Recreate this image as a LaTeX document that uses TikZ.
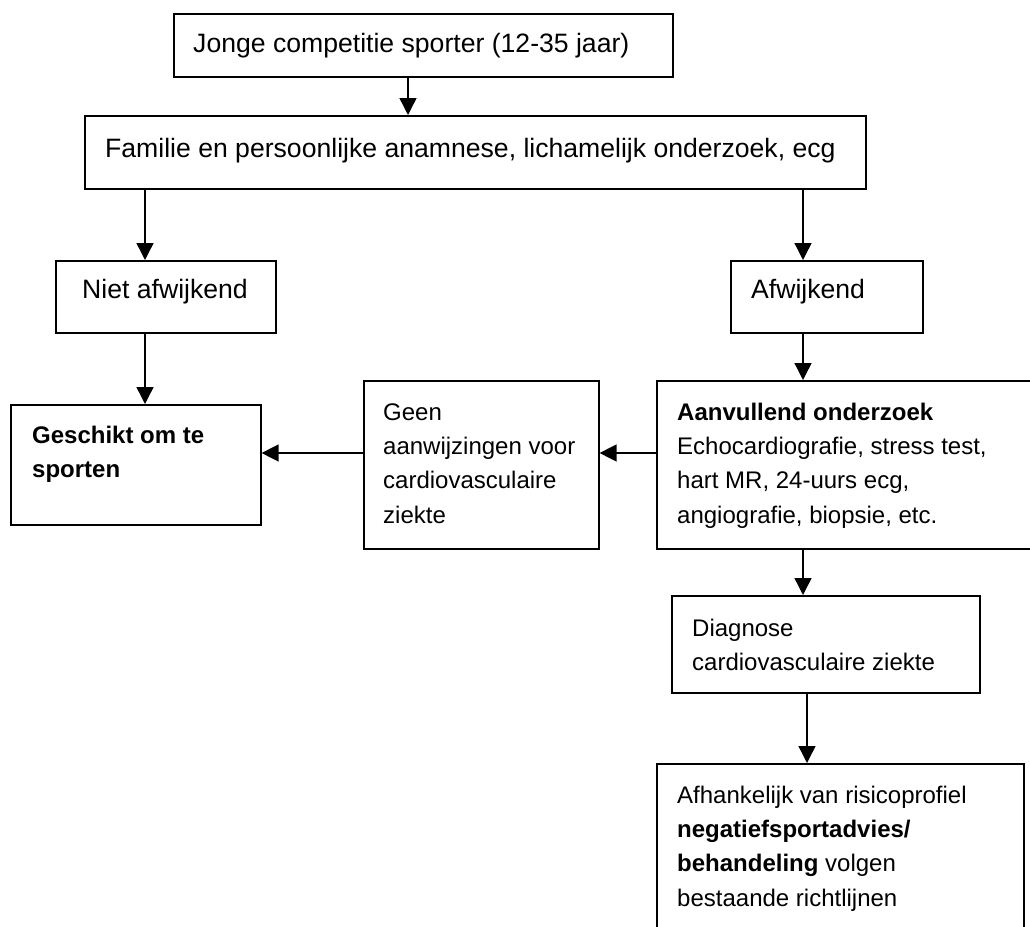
\documentclass[tikz,border=0pt]{standalone}
\usepackage{fontspec}
\setmainfont{Liberation Sans}
\usetikzlibrary{arrows.meta}
\tikzset{
  box/.style={draw=black, line width=1.6pt, inner sep=0pt, anchor=north west},
  arr/.style={draw=black, line width=1.4pt, -{Triangle[length=17pt,width=17pt]}},
  big/.style={anchor=base west, inner sep=0pt, font=\fontsize{26.6}{32}\selectfont},
  small/.style={anchor=base west, inner sep=0pt, font=\fontsize{24}{34.4}\selectfont},
}
\newcommand{\mylines}[1]{\begin{tabular}[t]{@{}l@{}}#1\end{tabular}}
\begin{document}
\begin{tikzpicture}[x=1pt,y=-1pt]
\useasboundingbox (0,0) rectangle (1030,926);
% boxes
\node[box, minimum width=499pt, minimum height=63pt] (b1) at (173,13) {};
\node[box, minimum width=781pt, minimum height=73pt] (b2) at (84,115) {};
\node[box, minimum width=220pt, minimum height=72pt] (b3) at (55,260) {};
\node[box, minimum width=192pt, minimum height=72pt] (b4) at (730,260) {};
\node[box, minimum width=250pt, minimum height=120pt] (b5) at (10,404) {};
\node[box, minimum width=235pt, minimum height=168pt] (b6) at (363,380) {};
\node[box, minimum width=384pt, minimum height=168pt] (b7) at (656,380) {};
\node[box, minimum width=308pt, minimum height=97pt] (b8) at (671,595) {};
\node[box, minimum width=367pt, minimum height=190pt] (b9) at (656,763) {};
% texts
\node[big] (t1) at (193,52) {Jonge competitie sporter (12-35 jaar)};
\node[big] (t2) at (105,157) {Familie en persoonlijke anamnese, lichamelijk onderzoek, ecg};
\node[big] (t3) at (82,298) {Niet afwijkend};
\node[big] (t4) at (751,298) {Afwijkend};
\node[small] (t5) at (32,443) {\mylines{\textbf{Geschikt om te}\\\textbf{sporten}}};
\node[small] (t6) at (383,420) {\mylines{Geen\\aanwijzingen voor\\cardiovasculaire\\ziekte}};
\node[small] (t7) at (677,420) {\mylines{\textbf{Aanvullend onderzoek}\\Echocardiografie, stress test,\\hart MR, 24-uurs ecg,\\angiografie, biopsie, etc.}};
\node[small] (t8) at (692,636) {\mylines{Diagnose\\cardiovasculaire ziekte}};
\node[small] (t9) at (677,803) {\mylines{Afhankelijk van risicoprofiel\\\textbf{negatiefsportadvies/}\\\textbf{behandeling} volgen\\bestaande richtlijnen}};
% arrow guide coordinates
\coordinate (cT) at (408,0);
\coordinate (cL) at (145,0);
\coordinate (cR) at (803,0);
\coordinate (cD) at (807,0);
\coordinate (cM) at (0,453);
% connectors
\draw[arr] (b1.south -| cT) -- (b2.north -| cT);
\draw[arr] (b2.south -| cL) -- (b3.north -| cL);
\draw[arr] (b2.south -| cR) -- (b4.north -| cR);
\draw[arr] (b3.south -| cL) -- (b5.north -| cL);
\draw[arr] (b4.south -| cR) -- (b7.north -| cR);
\draw[arr] (b7.west |- cM) -- (b6.east |- cM);
\draw[arr] (b6.west |- cM) -- (b5.east |- cM);
\draw[arr] (b7.south -| cR) -- (b8.north -| cR);
\draw[arr] (b8.south -| cD) -- (b9.north -| cD);
\end{tikzpicture}
\end{document}
